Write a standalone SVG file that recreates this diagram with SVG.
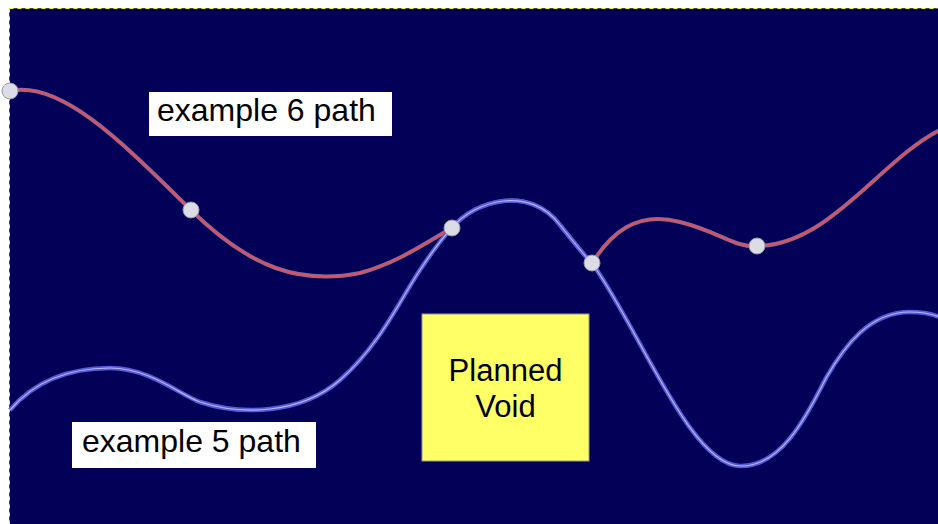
<svg xmlns="http://www.w3.org/2000/svg" width="938" height="524" viewBox="0 0 938 524">
<style>
.lbl{font-family:"Liberation Sans",Arial,sans-serif;fill:#000}
.box{fill:#ffffff;stroke:none}
.pt{fill:#dcdce6;stroke:#9a9aaa;stroke-width:1}
.redo{fill:none;stroke:#8a6a9a;stroke-width:4}
.redi{fill:none;stroke:#e0505a;stroke-width:2}
.blueo{fill:none;stroke:#5a5ad8;stroke-width:4.5}
.bluei{fill:none;stroke:#b4b4ff;stroke-width:1.2}
</style>
<rect x="0" y="0" width="938" height="524" fill="#ffffff"/>
<rect id="canvas" x="9.5" y="8.5" width="940" height="530" fill="#020057" stroke="#444" stroke-width="1"/>
<rect x="9.5" y="8.5" width="940" height="530" fill="none" stroke="#ffee33" stroke-width="1" stroke-dasharray="4 4"/>
<g id="connectors">
<g id="path6">
<path class="redo" d="M10,91 C60,80 120,140 191,210 C250,268 300,285 360,273 C400,262 430,240 452,228 C475,200 530,185 560,225 C580,250 590,262 592,263 C610,235 635,210 680,222 C720,232 735,248 757,246 C830,245 880,160 940,130"/>
<path class="redi" d="M10,91 C60,80 120,140 191,210 C250,268 300,285 360,273 C400,262 430,240 452,228 C475,200 530,185 560,225 C580,250 590,262 592,263 C610,235 635,210 680,222 C720,232 735,248 757,246 C830,245 880,160 940,130"/>
</g>
<g id="path5">
<path class="blueo" d="M10,410 C40,375 80,368 110,368 C150,368 180,395 200,402 C240,415 300,415 340,380 C380,345 400,300 420,270 C440,240 452,228 452,228 C475,200 530,185 560,225 C580,250 590,262 592,263 C640,330 690,465 740,466 C780,467 805,420 826,378 C845,345 870,312 910,312 C925,312 932,314 940,317"/>
<path class="bluei" d="M10,410 C40,375 80,368 110,368 C150,368 180,395 200,402 C240,415 300,415 340,380 C380,345 400,300 420,270 C440,240 452,228 452,228 C475,200 530,185 560,225 C580,250 590,262 592,263 C640,330 690,465 740,466 C780,467 805,420 826,378 C845,345 870,312 910,312 C925,312 932,314 940,317"/>
</g>
</g>
<g id="points">
<circle class="pt" cx="10" cy="91" r="8"/>
<circle class="pt" cx="191" cy="210" r="8"/>
<circle class="pt" cx="452" cy="228" r="8"/>
<circle class="pt" cx="592" cy="263" r="8"/>
<circle class="pt" cx="757" cy="246" r="8"/>
</g>
<g id="label6">
<rect class="box" x="149" y="92" width="243" height="44"/>
<text class="lbl" x="157" y="121" font-size="32">example 6 path</text>
</g>
<g id="label5">
<rect class="box" x="72" y="422" width="244" height="46"/>
<text class="lbl" x="82" y="452" font-size="32">example 5 path</text>
</g>
<g id="void">
<rect x="422" y="314" width="167" height="147" fill="#ffff66" stroke="#999" stroke-width="1"/>
<text class="lbl" x="505.5" y="381" font-size="31" text-anchor="middle">Planned</text>
<text class="lbl" x="505.5" y="417" font-size="31" text-anchor="middle">Void</text>
</g>
</svg>
